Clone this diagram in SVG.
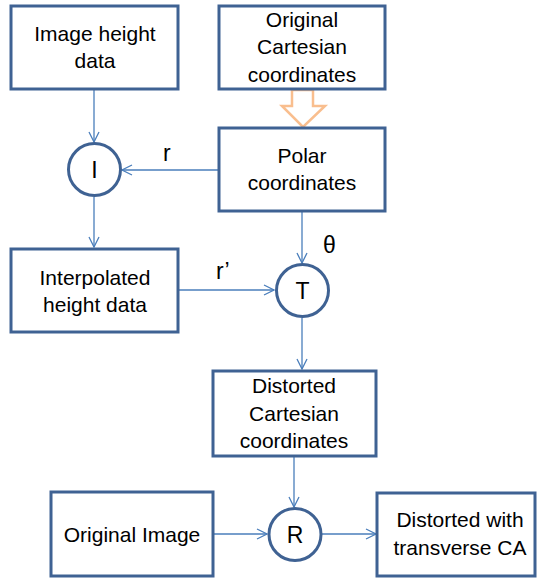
<svg xmlns="http://www.w3.org/2000/svg" width="537" height="578" viewBox="0 0 537 578">
<style>
.box{fill:#fff;stroke:#3F6293;stroke-width:3}
.circ{fill:#fff;stroke:#3F6293;stroke-width:3}
.t{font-family:"Liberation Sans",Arial,sans-serif;font-size:21px;fill:#000;text-anchor:middle}
.c{font-family:"Liberation Sans",Arial,sans-serif;font-size:23px;fill:#000;text-anchor:middle}
.lbl{font-family:"Liberation Sans",Arial,sans-serif;font-size:23px;fill:#000}
.ln{stroke:#4A7EBB;stroke-width:1.3;fill:none;marker-end:url(#ah)}
</style>
<defs>
<marker id="ah" viewBox="0 0 12 12" refX="11" refY="6" markerWidth="12" markerHeight="12" markerUnits="userSpaceOnUse" orient="auto">
<path d="M1,1 L11,6 L1,11" fill="none" stroke="#4A7EBB" stroke-width="1.3"/>
</marker>
</defs>
<rect width="537" height="578" fill="#fff"/>
<g id="connectors">
<line class="ln" x1="94" y1="89" x2="94" y2="142"/>
<line class="ln" x1="218" y1="170" x2="122" y2="170"/>
<line class="ln" x1="94" y1="197" x2="94" y2="247"/>
<line class="ln" x1="302" y1="211" x2="302" y2="263"/>
<line class="ln" x1="179" y1="290" x2="274" y2="290"/>
<line class="ln" x1="302" y1="318" x2="302" y2="369"/>
<line class="ln" x1="294" y1="456" x2="294" y2="507"/>
<line class="ln" x1="213" y1="534" x2="267" y2="534"/>
<line class="ln" x1="322" y1="534" x2="376" y2="534"/>
<path d="M292,90 L313,90 L313,106 L325,106 L303,127 L282,106 L292,106 Z" fill="#fff" stroke="#F9BE8E" stroke-width="2.5" stroke-linejoin="miter"/>
<text class="lbl" x="163" y="161">r</text>
<text class="lbl" x="323" y="253">θ</text>
<text class="lbl" x="216" y="279">r’</text>
</g>
<g id="image-height-data">
<rect class="box" x="11" y="6" width="167" height="83"/>
<text class="t" x="95" y="41">Image height</text>
<text class="t" x="95" y="68">data</text>
</g>
<g id="original-cartesian">
<rect class="box" x="219" y="6" width="166" height="83"/>
<text class="t" x="302" y="27">Original</text>
<text class="t" x="302" y="54">Cartesian</text>
<text class="t" x="302" y="82">coordinates</text>
</g>
<g id="polar-coordinates">
<rect class="box" x="219" y="128" width="166" height="83"/>
<text class="t" x="302" y="163">Polar</text>
<text class="t" x="302" y="190">coordinates</text>
</g>
<g id="node-I">
<circle class="circ" cx="94.5" cy="169.5" r="26"/>
<text class="c" x="94.5" y="177.5">I</text>
</g>
<g id="interpolated-height-data">
<rect class="box" x="11" y="249" width="167" height="83"/>
<text class="t" x="95" y="285">Interpolated</text>
<text class="t" x="95" y="312">height data</text>
</g>
<g id="node-T">
<circle class="circ" cx="302.5" cy="290.5" r="26"/>
<text class="c" x="302.5" y="298.5">T</text>
</g>
<g id="distorted-cartesian">
<rect class="box" x="213" y="371" width="163" height="85"/>
<text class="t" x="294" y="393">Distorted</text>
<text class="t" x="294" y="421">Cartesian</text>
<text class="t" x="294" y="448">coordinates</text>
</g>
<g id="node-R">
<circle class="circ" cx="295" cy="534.5" r="26"/>
<text class="c" x="295" y="542.5">R</text>
</g>
<g id="original-image">
<rect class="box" x="51" y="492" width="162" height="84"/>
<text class="t" x="132" y="542">Original Image</text>
</g>
<g id="distorted-with-ca">
<rect class="box" x="377" y="493" width="158" height="83"/>
<text class="t" x="460" y="527">Distorted with</text>
<text class="t" x="460" y="555">transverse CA</text>
</g>
</svg>
